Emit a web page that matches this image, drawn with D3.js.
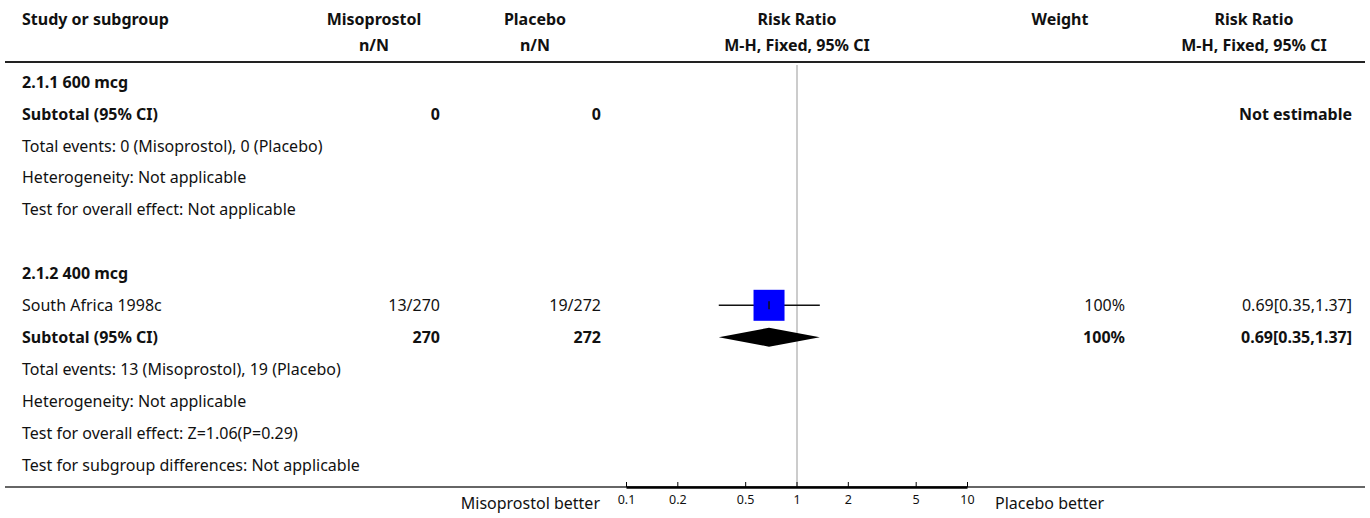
<!DOCTYPE html>
<html>
<head>
<meta charset="utf-8">
<script src="https://cdn.jsdelivr.net/npm/d3@7"></script>
<style>
  body { margin: 0; background: #fff; }
  svg { display: block; font-family: "Noto Sans", sans-serif; }
  .bold { font-weight: bold; }
</style>
</head>
<body>
<div class="wrapper"></div>
<script>
var svg, rowScale, xScale, weightScale, g;

var width = 1370;
var height = 518;
var fontSize = 16;

// Header texts
var headerTop = ["Study or subgroup", "Misoprostol", "Placebo", "Risk Ratio", "Weight", "Risk Ratio"];
var headerBottom = ["", "n/N", "n/N", "M-H, Fixed, 95% CI", "", "M-H, Fixed, 95% CI"];

// Left column rows, top to bottom
var rowLabels = [
  "2.1.1 600 mcg",
  "Subtotal (95% CI)",
  "Total events: 0 (Misoprostol), 0 (Placebo)",
  "Heterogeneity: Not applicable",
  "Test for overall effect: Not applicable",
  "",
  "2.1.2 400 mcg",
  "South Africa 1998c",
  "Subtotal (95% CI)",
  "Total events: 13 (Misoprostol), 19 (Placebo)",
  "Heterogeneity: Not applicable",
  "Test for overall effect: Z=1.06(P=0.29)",
  "Test for subgroup differences: Not applicable"
];
var rowKinds = ["heading", "subtotal", "note", "note", "note", "blank",
  "heading", "study", "subtotal", "note", "note", "note", "note"];

// Studies
var studyRows = [7];
var studyMisoEvents = [13];
var studyMisoTotal = [270];
var studyPlaceboEvents = [19];
var studyPlaceboTotal = [272];
var studyWeight = [100];
var studyRR = [0.69];
var studyLower = [0.35];
var studyUpper = [1.37];

// Subtotals
var subtotalRows = [1, 8];
var subtotalMiso = [0, 270];
var subtotalPlacebo = [0, 272];
var subtotalWeight = [null, 100];
var subtotalRR = [null, 0.69];
var subtotalLower = [null, 0.35];
var subtotalUpper = [null, 1.37];

// Axis
var axisTicks = [0.1, 0.2, 0.5, 1, 2, 5, 10];
var leftLabel = "Misoprostol better";
var rightLabel = "Placebo better";

// Column anchors
var cols = {
  study: 22,
  misoHead: 374, misoEnd: 440,
  placHead: 535, placEnd: 601,
  plotHead: 797,
  weightHead: 1060, weightEnd: 1125,
  rrHead: 1254, rrEnd: 1352
};

function fmt(v) { return v.toFixed(2); }

function addText(sel, x, y, txt, anchor, bold) {
  sel.append("text")
    .attr("x", x)
    .attr("y", y)
    .attr("dy", "0.36em")
    .attr("text-anchor", anchor)
    .attr("font-size", fontSize)
    .classed("bold", !!bold)
    .attr("fill", "#111")
    .text(txt);
}

/**
 * Builds the whole forest plot.
 */
function initChart() {
  svg = d3.select(".wrapper").append("svg")
    .attr("width", width)
    .attr("height", height);
  g = svg.append("g");

  rowScale = d3.scaleLinear().domain([0, rowLabels.length - 1]).range([82, 464.8]);
  xScale = d3.scaleLog().domain([0.1, 10]).range([626, 967]);
  weightScale = d3.scaleSqrt().domain([0, 100]).range([0, 31]);

  drawHeader();
  drawRows();
  drawPlot();
}

function drawHeader() {
  var hx = [cols.study, cols.misoHead, cols.placHead, cols.plotHead, cols.weightHead, cols.rrHead];
  headerTop.forEach(function(t, i) {
    addText(g, hx[i], 19, t, i === 0 ? "start" : "middle", true);
  });
  headerBottom.forEach(function(t, i) {
    if (t) addText(g, hx[i], 45, t, "middle", true);
  });
  g.append("line")
    .attr("x1", 5).attr("x2", width - 5)
    .attr("y1", 62).attr("y2", 62)
    .attr("stroke", "#222").attr("stroke-width", 2);
}

function drawRows() {
  rowLabels.forEach(function(label, i) {
    if (!label) return;
    var bold = rowKinds[i] === "heading" || rowKinds[i] === "subtotal";
    addText(g, cols.study, rowScale(i), label, "start", bold);
  });

  studyRows.forEach(function(r, i) {
    var y = rowScale(r);
    addText(g, cols.misoEnd, y, studyMisoEvents[i] + "/" + studyMisoTotal[i], "end", false);
    addText(g, cols.placEnd, y, studyPlaceboEvents[i] + "/" + studyPlaceboTotal[i], "end", false);
    addText(g, cols.weightEnd, y, studyWeight[i] + "%", "end", false);
    addText(g, cols.rrEnd, y, fmt(studyRR[i]) + "[" + fmt(studyLower[i]) + "," + fmt(studyUpper[i]) + "]", "end", false);
  });

  subtotalRows.forEach(function(r, i) {
    var y = rowScale(r);
    addText(g, cols.misoEnd, y, String(subtotalMiso[i]), "end", true);
    addText(g, cols.placEnd, y, String(subtotalPlacebo[i]), "end", true);
    if (subtotalRR[i] === null) {
      addText(g, cols.rrEnd, y, "Not estimable", "end", true);
    } else {
      addText(g, cols.weightEnd, y, subtotalWeight[i] + "%", "end", true);
      addText(g, cols.rrEnd, y, fmt(subtotalRR[i]) + "[" + fmt(subtotalLower[i]) + "," + fmt(subtotalUpper[i]) + "]", "end", true);
    }
  });
}

function drawPlot() {
  var axisY = 487;

  // Line of no effect
  g.append("line")
    .attr("x1", xScale(1) + 0.5).attr("x2", xScale(1) + 0.5)
    .attr("y1", 65).attr("y2", axisY)
    .attr("stroke", "#999").attr("stroke-width", 1);

  // Bottom rule across the whole table
  g.append("line")
    .attr("x1", 5).attr("x2", width - 5)
    .attr("y1", axisY).attr("y2", axisY)
    .attr("stroke", "#333").attr("stroke-width", 1.5);

  // Study markers
  studyRows.forEach(function(r, i) {
    var y = rowScale(r);
    var s = weightScale(studyWeight[i]);
    g.append("line")
      .attr("x1", xScale(studyLower[i])).attr("x2", xScale(studyUpper[i]))
      .attr("y1", y).attr("y2", y)
      .attr("stroke", "#111").attr("stroke-width", 1.5);
    g.append("rect")
      .attr("x", xScale(studyRR[i]) - s / 2).attr("y", y - s / 2)
      .attr("width", s).attr("height", s)
      .attr("fill", "#0000ff");
    g.append("line")
      .attr("x1", xScale(studyRR[i])).attr("x2", xScale(studyRR[i]))
      .attr("y1", y - 4).attr("y2", y + 4)
      .attr("stroke", "#111").attr("stroke-width", 1.5);
  });

  // Subtotal diamonds
  subtotalRows.forEach(function(r, i) {
    if (subtotalRR[i] === null) return;
    var y = rowScale(r), h = 9.5;
    var pts = [
      [xScale(subtotalLower[i]), y],
      [xScale(subtotalRR[i]), y - h],
      [xScale(subtotalUpper[i]), y],
      [xScale(subtotalRR[i]), y + h]
    ];
    g.append("path")
      .attr("d", d3.line()(pts) + "Z")
      .attr("fill", "#000");
  });

  // Axis
  var axis = d3.axisBottom(xScale)
    .tickValues(axisTicks)
    .tickFormat(function(d) { return String(d); })
    .tickSizeInner(-5)
    .tickSizeOuter(0)
    .tickPadding(8);
  var axisG = g.append("g")
    .attr("transform", "translate(0," + axisY + ")")
    .call(axis);
  axisG.select(".domain").attr("stroke", "#000").attr("stroke-width", 2.5);
  axisG.selectAll(".tick line").attr("stroke", "#000").attr("stroke-width", 1);
  axisG.selectAll(".tick text")
    .attr("font-family", "Noto Sans, sans-serif")
    .attr("font-size", 12.5)
    .attr("fill", "#111");

  g.append("text")
    .attr("x", 600).attr("y", 503).attr("dy", "0.36em")
    .attr("text-anchor", "end").attr("font-size", fontSize).attr("fill", "#111")
    .text(leftLabel);
  g.append("text")
    .attr("x", 995).attr("y", 503).attr("dy", "0.36em")
    .attr("text-anchor", "start").attr("font-size", fontSize).attr("fill", "#111")
    .text(rightLabel);
}

initChart();
</script>
</body>
</html>
